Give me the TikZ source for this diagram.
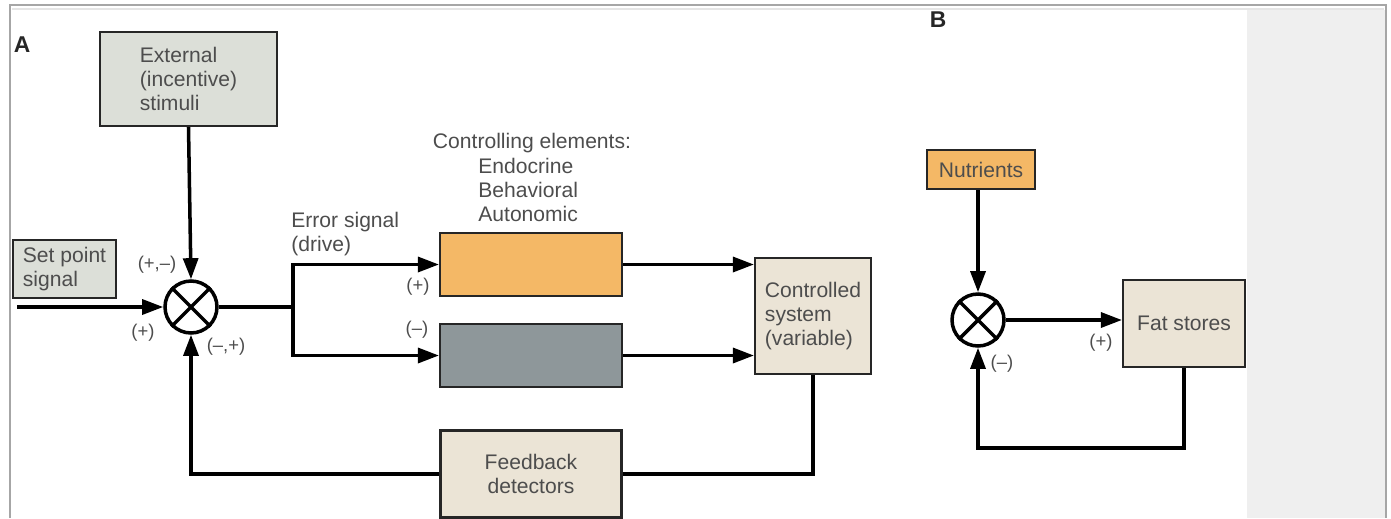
\documentclass[tikz,border=0pt]{standalone}
\usepackage{fontspec}
\setmainfont{Liberation Sans}
\usetikzlibrary{arrows.meta}

\definecolor{boxgreen}{HTML}{DCDFD8}
\definecolor{boxbeige}{HTML}{EBE4D6}
\definecolor{boxorange}{HTML}{F4B866}
\definecolor{boxslate}{HTML}{8E979A}
\definecolor{txtgray}{HTML}{4D4D4D}
\definecolor{paneltint}{HTML}{EFEFEF}

\begin{document}
\begin{tikzpicture}[x=0.02cm, y=-0.02cm,
    every node/.style={font=\fontsize{12}{13.5}\selectfont, text=txtgray}]

    % Styles (coordinates are in pixels of the original figure)
    \tikzstyle{green_box} = [fill=boxgreen, draw=black!85, line width=1.2pt,
        align=left, inner sep=4pt]
    \tikzstyle{beige_box} = [fill=boxbeige, draw=black!85, line width=1.2pt,
        align=left, inner sep=4pt]
    \tikzstyle{orange_box} = [fill=boxorange, draw=black!85, line width=1.2pt,
        minimum width=3.64cm, minimum height=1.26cm]
    \tikzstyle{slate_box} = [fill=boxslate, draw=black!85, line width=1.2pt,
        minimum width=3.64cm, minimum height=1.26cm]
    \tikzstyle{sum_node} = [circle, draw=black, line width=2pt, fill=white,
        minimum size=1.04cm, inner sep=0pt]
    \tikzstyle{sign_lbl} = [font=\fontsize{10.5}{12}\selectfont, inner sep=0pt]
    \tikzstyle{panel_lbl} = [font=\fontsize{13}{14}\selectfont\bfseries, text=black!85, inner sep=0pt]
    \tikzstyle{sig_line} = [line width=2pt, black]
    \tikzstyle{sig_arrow} = [line width=2pt, black, -{Triangle[length=12pt,width=8.5pt]}]

    % Row heights of the two branches
    \def\rowup{264.5}
    \def\rowdown{355.5}

    % Page frame and grey side panel
    \useasboundingbox (0,0) rectangle (1391,518);
    \fill[paneltint] (1247,10) rectangle (1385,518);
    \draw[gray!70, line width=0.8pt] (10,518) -- (10,5) -- (1386,5) -- (1386,518);
    \draw[gray!20, line width=0.6pt] (12,9) -- (1384,9);

    % ---------------- Panel A ----------------
    \node[panel_lbl] (lblA) at (22,45) {A};

    \node[green_box, minimum width=3.54cm, minimum height=1.88cm] (ext) at (188.5,79)
      {External\\(incentive)\\stimuli};
    \node[green_box, minimum width=2.06cm, minimum height=1.12cm] (setpt) at (64.5,269)
      {Set point\\signal};
    \coordinate (setin) at (17,307);

    \node[sum_node] (sum1) at (191,307) {};
    \draw[line width=2pt] (sum1.45) -- (sum1.225) (sum1.135) -- (sum1.315);

    \node[align=left, anchor=west, inner sep=0pt] (err) at (291,234)
      {Error signal\\(drive)};
    \coordinate (split) at (293,307);

    \node[inner sep=0pt] (ctrltitle) at (532,143) {Controlling elements:};
    \node[align=left, anchor=west, inner sep=0pt] (ctrllist) at (478,190)
      {Endocrine\\Behavioral\\Autonomic};

    \node[orange_box] (ctrlup) at (531,\rowup) {};
    \node[slate_box] (ctrldown) at (531,\rowdown) {};

    \node[beige_box, minimum width=2.32cm, minimum height=2.32cm] (sys) at (813,316)
      {Controlled\\system\\(variable)};
    \node[beige_box, align=center, minimum width=3.62cm, minimum height=1.74cm] (fb) at (531,474)
      {Feedback\\detectors};

    % signs
    \node[sign_lbl] (sgnext) at (157,265) {(+,–)};
    \node[sign_lbl] (sgnset) at (143,333) {(+)};
    \node[sign_lbl] (sgnfb) at (226,347) {(–,+)};
    \node[sign_lbl] (sgnup) at (418,287) {(+)};
    \node[sign_lbl] (sgndown) at (417,330) {(–)};

    % connectors
    \draw[sig_arrow] (ext.south) -- (sum1.north);
    \draw[sig_arrow] (setin) -- (sum1.west);
    \draw[sig_line] (sum1.east) -- (split);
    \draw[sig_arrow] (split) |- (ctrlup.west);
    \draw[sig_arrow] (split) |- (ctrldown.west);
    \draw[sig_arrow] (ctrlup.east) -- (ctrlup.east -| sys.west);
    \draw[sig_arrow] (ctrldown.east) -- (ctrldown.east -| sys.west);
    \draw[sig_line] (sys.south) |- (fb.east);
    \draw[sig_arrow] (fb.west) -| (sum1.south);

    % ---------------- Panel B ----------------
    \node[panel_lbl] (lblB) at (938,20) {B};

    \node[fill=boxorange, draw=black!85, line width=1.2pt, minimum width=2.16cm,
      minimum height=0.78cm] (nutr) at (981,169.5) {Nutrients};
    \node[sum_node] (sum2) at (978,320) {};
    \draw[line width=2pt] (sum2.45) -- (sum2.225) (sum2.135) -- (sum2.315);
    \node[beige_box, minimum width=2.44cm, minimum height=1.74cm] (fat) at (1184,323.5)
      {Fat stores};

    \node[sign_lbl] (sgnfat) at (1101,343) {(+)};
    \node[sign_lbl] (sgnloop) at (1002,364) {(–)};

    \draw[sig_arrow] (nutr.south -| sum2.north) -- (sum2.north);
    \draw[sig_arrow] (sum2.east) -- (sum2.east -| fat.west);
    \draw[sig_arrow] (fat.south) -- ++(0,80) -| (sum2.south);

\end{tikzpicture}
\end{document}
